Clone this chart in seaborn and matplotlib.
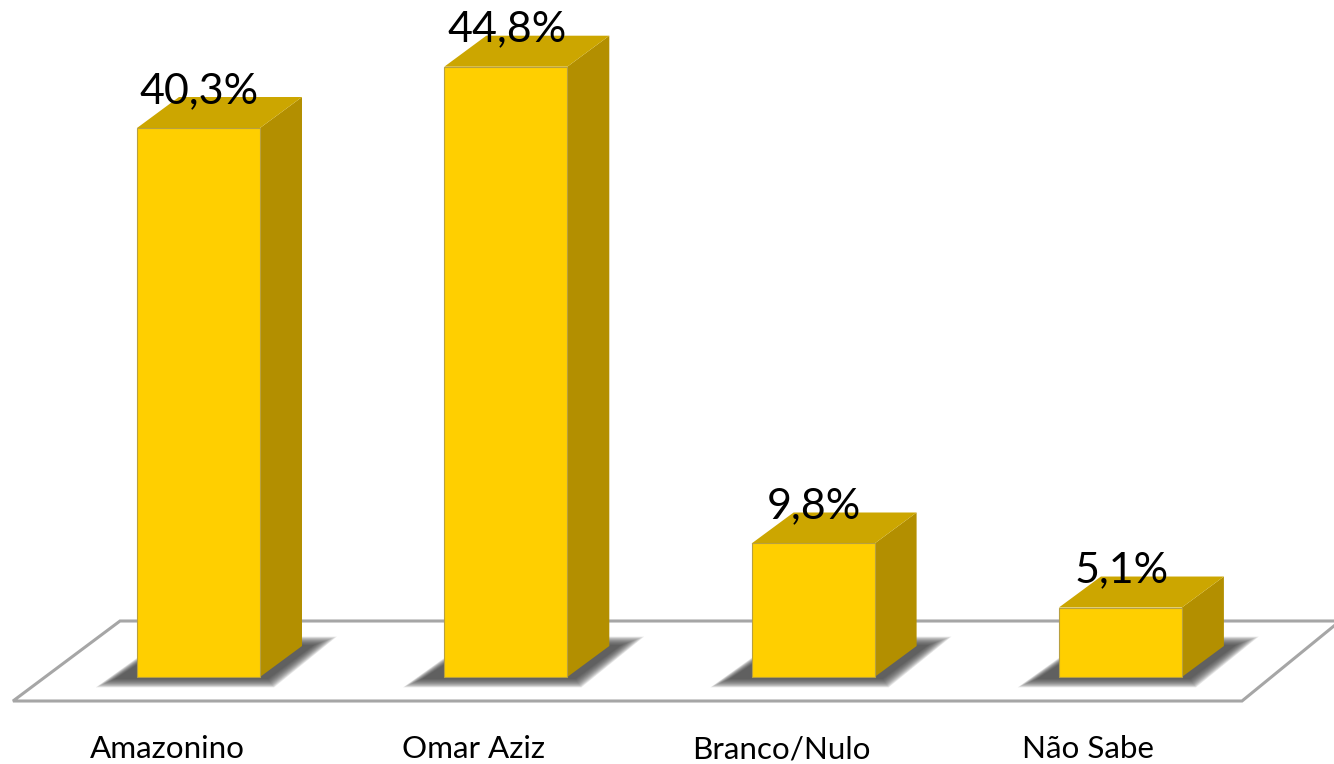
import matplotlib
matplotlib.use("Agg")
import matplotlib.pyplot as plt
from matplotlib.patches import Polygon
import seaborn as sns
import pandas as pd

categories = ["Amazonino", "Omar Aziz", "Branco/Nulo", "Não Sabe"]
values = [40.3, 44.8, 9.8, 5.1]
labels = ["40,3%", "44,8%", "9,8%", "5,1%"]

sns.set_theme(style="white")
plt.rcParams['font.family'] = ['Lato', 'DejaVu Sans']

fig = plt.figure(figsize=(13.34, 7.64), dpi=100)
ax = fig.add_axes([0, 0, 1, 1])
W, H = 1334, 764
x_scale = 307.3          # px per category
x0 = 198.5               # px of category 0
y0 = 677.0               # baseline px
y_scale = (677 - 128) / 40.3  # px per percent

dx = 42 / x_scale
dy = 31 / y_scale
bw = 123 / x_scale

fx = lambda p: (p - x0) / x_scale
fy = lambda p: (y0 - p) / y_scale

# floor
floor = [(fx(13), fy(701)), (fx(120), fy(621)), (fx(1340), fy(621)), (fx(1242), fy(701))]
ax.add_patch(Polygon(floor, closed=True, fc="white", ec="#a6a6a6", lw=2.2, zorder=1))

# soft shadows: stacked translucent parallelograms, widest first
for i in range(len(categories)):
    l, r = i - bw / 2, i + bw / 2
    for e in range(12, -1, -1):
        pts = [(l - (22 + 1.6 * e) / x_scale, (-2 - 0.7 * e) / y_scale),
               (l + 30 / x_scale, (32 + 0.7 * e) / y_scale),
               (r + (54 + 1.9 * e) / x_scale, (32 + 0.7 * e) / y_scale),
               (r + (8 + 0.5 * e) / x_scale, (-2 - 0.7 * e) / y_scale)]
        ax.add_patch(Polygon(pts, closed=True, fc="#404040", ec="none",
                             alpha=0.12, zorder=2))

df = pd.DataFrame({"cat": list(range(4)), "val": values})
sns.barplot(data=df, x="cat", y="val", native_scale=True, width=bw, color="#ffcf00",
            saturation=1, ax=ax, zorder=4, edgecolor="#b8a040", linewidth=0.8)
ax.set_xlim(-x0 / x_scale, (W - x0) / x_scale)
ax.set_ylim(-(H - y0) / y_scale, y0 / y_scale)
ax.axis("off")

for i, (v, lab) in enumerate(zip(values, labels)):
    l, r = i - bw / 2, i + bw / 2
    ax.add_patch(Polygon([(r, 0), (r + dx, dy), (r + dx, v + dy), (r, v)], fc="#b38f00", ec="none", zorder=3.5))
    ax.add_patch(Polygon([(l, v), (l + dx, v + dy), (r + dx, v + dy), (r, v)], fc="#cca600", ec="none", zorder=3.5))
    ax.text(i + 1 / x_scale, v + 37 / y_scale, lab, ha="center", va="center", fontsize=31, color="black", zorder=6)

label_px = [167, 474, 781, 1088]
for name, p in zip(categories, label_px):
    ax.text(fx(p), fy(749), name, ha="center", va="center", fontsize=22.6, color="black", zorder=6)

fig.savefig("out.png", dpi=100)
